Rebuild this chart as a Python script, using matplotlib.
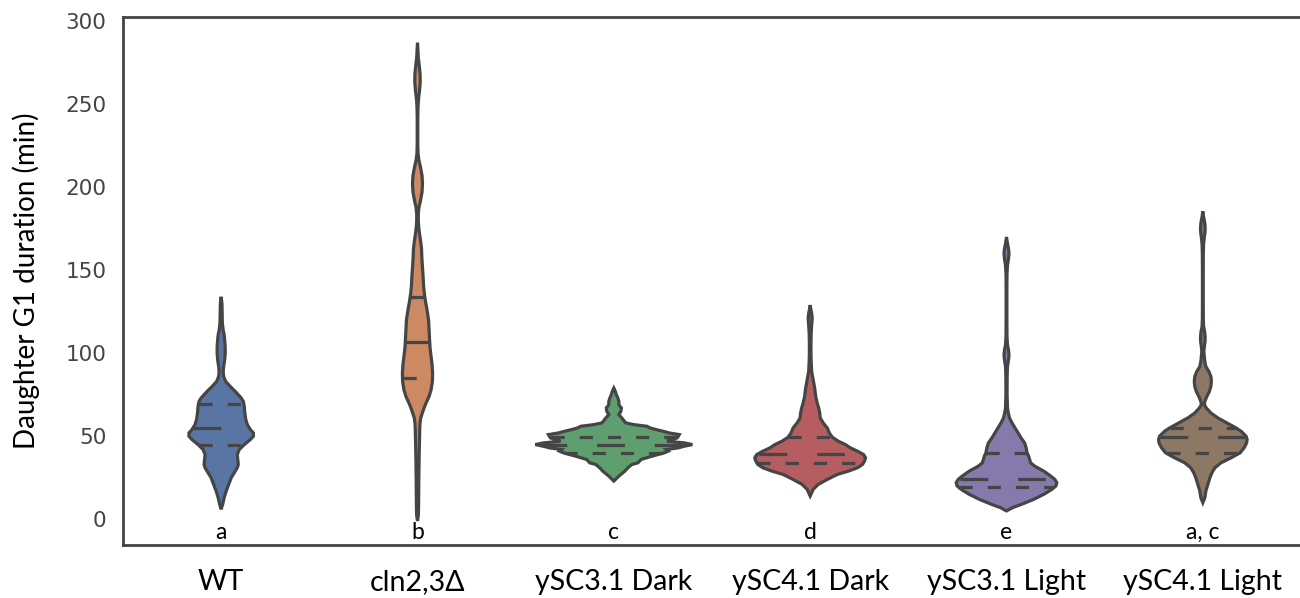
import matplotlib.pyplot as plt
import numpy as np
import seaborn as sns

plt.rcParams['lines.scale_dashes'] = False

categories = ["WT", "cln2,3Δ", "ySC3.1 Dark", "ySC4.1 Dark", "ySC3.1 Light", "ySC4.1 Light"]
letters = ["a", "b", "c", "d", "e", "a, c"]

# density profiles: duration (min) and relative density
wt_y = [6, 9, 13, 17, 21, 25, 28, 31, 33, 36, 39, 42, 45, 48, 50, 52, 54, 57, 60, 64, 68, 71, 73,
        75, 77, 80, 83, 86, 89, 92, 96, 100, 104, 108, 111, 114, 118, 124, 130, 134]
wt_d = [0, 1.5, 3, 5, 7.5, 10, 13, 16, 17, 16.5, 16, 18, 23, 29, 32, 32, 29, 26, 24.5, 23.5, 23, 22, 20,
        17, 14, 9, 4.5, 2.5, 2, 2.5, 3.5, 4, 4, 3.5, 3, 2, 1.2, 1, 0.8, 0]

cln_y = [-1, 2, 8, 16, 24, 32, 40, 48, 54, 58, 61, 64, 67, 70, 74, 78, 83, 88, 93, 98, 103, 108, 114,
         120, 126, 131, 136, 141, 147, 153, 158, 163, 168, 172, 176, 180, 184, 188, 192, 197, 202, 207,
         212, 216, 220, 226, 234, 242, 248, 253, 258, 263, 268, 273, 278, 283, 287]
cln_d = [0, 0.8, 1.1, 1.2, 1.3, 1.5, 1.7, 2, 2.2, 2.5, 3.2, 4.8, 6.5, 8.5, 11.5, 13.5, 14.8, 15, 14.5, 13.5,
         12.5, 12, 11.5, 11, 9.5, 8, 6.8, 6, 5.5, 4.8, 4.3, 4, 3, 2, 1.2, 0.8, 0.8, 1.5, 3, 4.5, 5, 4.5,
         3, 1.5, 0.6, 0.3, 0.3, 0.3, 0.5, 1, 2, 2.7, 2.6, 1.8, 0.8, 0.4, 0]

d31_y = [23, 26, 29, 31, 33, 34, 36, 38, 39, 40, 41, 42, 43, 44, 45, 46, 47, 48, 49, 50, 51, 52, 53,
         54, 55, 56, 57, 58, 59, 61, 63, 65, 67, 69, 71, 73, 75, 77, 79]
d31_d = [0, 5, 11, 14, 18, 24, 27, 38, 44, 50, 54, 52, 64, 70, 78, 70, 53, 58, 63, 64, 65, 55, 49,
         42, 36, 33, 20, 12, 10.5, 8, 5, 7, 7.5, 5, 5, 4, 2.5, 1.5, 0]

d41_y = [14, 16, 18, 21, 24, 27, 29, 31, 33, 35, 37, 39, 41, 43, 45, 47, 49.4, 52, 55, 58, 61, 64, 67,
         70, 74, 79, 84, 89, 95, 100, 106, 112, 117, 121, 124, 127, 129]
d41_d = [0, 1.5, 3, 8, 17, 27, 38, 47, 52, 54, 55, 53, 47, 40, 35, 28, 22, 19, 17, 13, 10, 9.5, 8.5,
         7, 5.5, 4.5, 3, 1.5, 1, 0.8, 0.8, 1, 1.5, 2, 1.5, 0.5, 0]

l31_y = [5, 7, 9, 12, 15, 18, 20, 22, 24, 26, 29, 32, 34, 36, 38, 40, 43, 46, 49, 52, 55, 58, 61, 64,
         67, 75, 81, 87, 92, 96, 99, 102, 105, 110, 120, 130, 140, 148, 153, 157, 160, 163, 166, 170]
l31_d = [0, 6, 15, 27, 37, 45, 49, 50, 48, 44, 37, 28, 24, 23, 22, 20.5, 19.5, 18, 14.5, 11.5, 8.5,
         5.5, 3, 1.8, 1, 0.6, 0.6, 0.7, 1, 2, 2.5, 2, 1, 0.5, 0.4, 0.4, 0.4, 0.5, 1, 2, 2.5, 2, 1, 0]

l41_y = [10, 13, 17, 21, 25, 28, 31, 34, 37, 40, 43, 46, 48, 50, 53, 55, 58, 61, 64, 67, 69, 71, 74,
         77, 80, 83, 86, 89, 92, 95, 98, 101, 104, 107, 110, 113, 116, 120, 130, 140, 150, 160, 166,
         170, 173, 176, 179, 182, 185.5]
l41_d = [0, 2, 3, 5, 7, 9, 12, 18, 28, 37, 41, 43.5, 44, 43, 38, 33, 24, 15, 8, 3.5, 1.5, 2, 4, 6.5,
         8, 8.5, 8, 6, 3, 2, 1.5, 1, 1.5, 2.2, 2.3, 1.8, 0.8, 0.5, 0.4, 0.4, 0.4, 0.5, 0.8, 1.5, 2.2,
         2.3, 1.8, 0.8, 0]

quartiles = [[44.8, 55.2, 69.4], [85, 107, 134], [40, 44.6, 49.4],
             [34, 39.4, 49.4], [19.3, 24.5, 40], [39.8, 49.6, 55]]

profiles = [(wt_y, wt_d), (cln_y, cln_d), (d31_y, d31_d),
            (d41_y, d41_d), (l31_y, l31_d), (l41_y, l41_d)]

colors = sns.color_palette("deep", 6, desat=0.75)
line_color = "#454545"
lw = 2.3

fig = plt.figure(figsize=(13, 5.98), dpi=100)
ax = fig.add_axes([123 / 1300, 53 / 598, 1178 / 1300, 528 / 598])

max_d = max(max(d) for _, d in profiles)
scale = 0.4 / max_d

for i, (yv, dv) in enumerate(profiles):
    yv = np.asarray(yv, float)
    w = np.asarray(dv, float) * scale
    xs = np.concatenate([i + w, (i - w)[::-1]])
    ys = np.concatenate([yv, yv[::-1]])
    ax.fill(xs, ys, facecolor=colors[i], edgecolor=line_color, linewidth=lw, zorder=2)
    for k, q in enumerate(quartiles[i]):
        hw = np.interp(q, yv, w) * 0.99
        dash = (20, 21.5) if k == 1 else (9.5, 10.8)
        ax.plot([i - hw, i + hw], [q, q], color=line_color, lw=lw,
                linestyle=(0, dash), solid_capstyle='butt', dash_capstyle='butt', zorder=3)
    ax.text(i, -12, letters[i], ha='center', va='baseline', fontsize=16.5,
            family=['Lato', 'DejaVu Sans'], color='black', zorder=4)

ax.set_xlim(-0.5, 5.5)
ax.set_ylim(-15.5, 302.5)
ax.set_yticks([0, 50, 100, 150, 200, 250, 300])
ax.tick_params(axis='y', length=0, pad=12, labelsize=15.5, labelcolor='#444444')
ax.set_xticks(range(len(categories)))
ax.set_xticklabels(categories, family=['Lato', 'DejaVu Sans'], fontsize=20.5, color='black')
ax.tick_params(axis='x', length=0, pad=17)
ax.set_ylabel("Daughter G1 duration (min)", family=['Lato', 'DejaVu Sans'], fontsize=20,
              color='black', labelpad=18)

for side in ['left', 'top', 'bottom']:
    ax.spines[side].set_color('#444444')
    ax.spines[side].set_linewidth(2)
ax.spines['right'].set_visible(False)

fig.savefig("out.png", dpi=100)
